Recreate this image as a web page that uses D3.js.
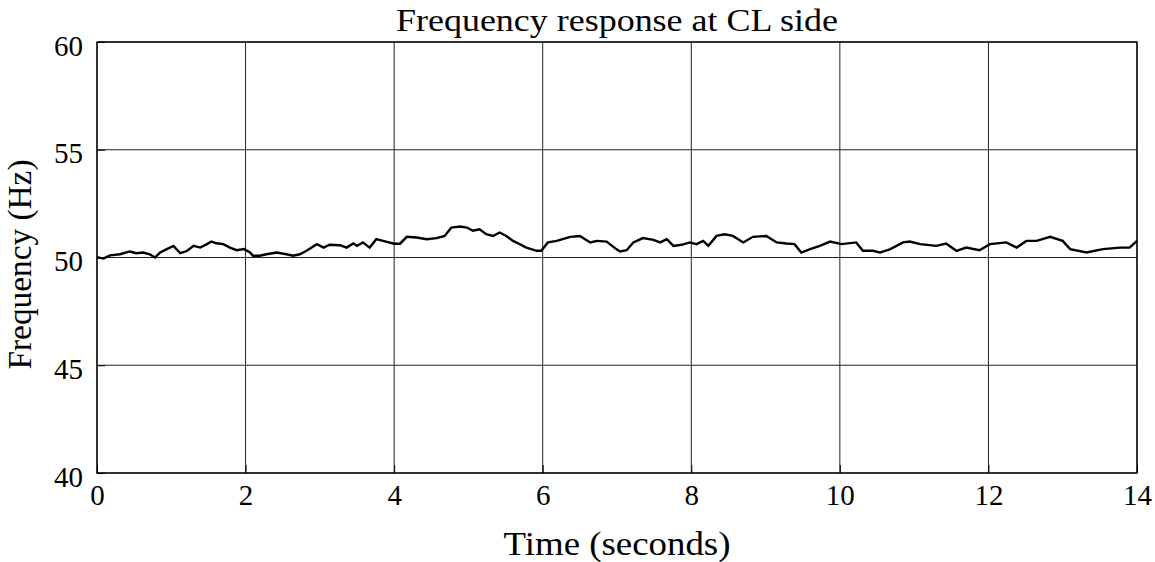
<!DOCTYPE html>
<html><head><meta charset="utf-8">
<script src="https://cdn.jsdelivr.net/npm/d3@7"></script>
<style>body{margin:0;background:#fff}svg{display:block}text{font-family:"Liberation Serif","Times New Roman",serif;fill:#000}</style>
</head><body>
<svg id="c" width="1155" height="562"></svg>
<script>
const title = "Frequency response at CL side";
const xLabel = "Time (seconds)";
const yLabel = "Frequency (Hz)";
const xTicks = [0,2,4,6,8,10,12,14];
const yTicks = [40,45,50,55,60];
const times = [0,0.085,0.175,0.31,0.44,0.53,0.62,0.71,0.78,0.85,0.94,1.03,1.12,1.21,1.3,1.39,1.48,1.54,1.61,1.7,1.79,1.88,1.98,2.06,2.1,2.19,2.28,2.42,2.55,2.64,2.73,2.82,2.96,3.05,3.13,3.27,3.36,3.45,3.5,3.58,3.67,3.76,3.85,4.0,4.08,4.17,4.3,4.44,4.57,4.68,4.77,4.89,4.98,5.06,5.15,5.24,5.33,5.42,5.51,5.6,5.69,5.78,5.92,5.98,6.07,6.19,6.37,6.5,6.64,6.73,6.86,6.99,7.04,7.13,7.22,7.35,7.49,7.58,7.67,7.76,7.87,7.98,8.07,8.16,8.23,8.34,8.45,8.56,8.7,8.83,9.01,9.15,9.28,9.39,9.48,9.6,9.73,9.87,10.02,10.22,10.31,10.45,10.54,10.68,10.85,10.94,11.08,11.3,11.43,11.57,11.7,11.88,12.02,12.24,12.38,12.51,12.65,12.83,13.0,13.1,13.32,13.54,13.77,13.9,14.0];
const freqs = [50.02,49.95,50.1,50.15,50.28,50.2,50.23,50.15,50.0,50.23,50.39,50.54,50.2,50.3,50.54,50.46,50.62,50.74,50.66,50.62,50.46,50.34,50.39,50.23,50.08,50.08,50.15,50.23,50.15,50.08,50.15,50.31,50.62,50.46,50.59,50.57,50.46,50.65,50.54,50.7,50.46,50.85,50.77,50.64,50.64,50.96,50.93,50.85,50.9,51.0,51.39,51.44,51.39,51.24,51.31,51.08,51.0,51.16,51.0,50.77,50.62,50.46,50.31,50.31,50.7,50.77,50.96,51.0,50.7,50.77,50.74,50.39,50.28,50.34,50.7,50.9,50.82,50.7,50.85,50.54,50.59,50.7,50.62,50.77,50.54,51.0,51.08,51.0,50.7,50.96,51.0,50.7,50.65,50.62,50.23,50.39,50.54,50.74,50.62,50.7,50.31,50.31,50.23,50.39,50.7,50.74,50.62,50.54,50.65,50.31,50.46,50.34,50.62,50.7,50.46,50.77,50.77,50.96,50.77,50.39,50.23,50.39,50.46,50.46,50.77];

const svg = d3.select("#c");
const L = 97, R = 1137, T = 42, B = 473;
const x = d3.scaleLinear().domain([0,14]).range([L,R]);
const y = d3.scaleLinear().domain([40,60]).range([B,T]);

// grid
svg.append("g").selectAll("line").data(xTicks).join("line")
  .attr("x1",d=>x(d)).attr("x2",d=>x(d)).attr("y1",T).attr("y2",B)
  .attr("stroke","#222").attr("stroke-width",1);
svg.append("g").selectAll("line").data(yTicks).join("line")
  .attr("x1",L).attr("x2",R).attr("y1",d=>y(d)).attr("y2",d=>y(d))
  .attr("stroke","#222").attr("stroke-width",1);

// axes
const xa = svg.append("g").attr("transform",`translate(0,${B})`)
  .call(d3.axisBottom(x).tickValues(xTicks).tickSize(-8).tickPadding(32).tickFormat(d3.format("d")));
const ya = svg.append("g").attr("transform",`translate(${L},0)`)
  .call(d3.axisLeft(y).tickValues(yTicks).tickSize(-8).tickPadding(14).tickFormat(d3.format("d")));
[xa,ya].forEach(a=>{a.select(".domain").remove();a.selectAll("line").attr("stroke","#000");
  a.selectAll("text").style("font-size","29px").style("font-family","Liberation Serif");});
xa.selectAll("text").attr("dy","0");
ya.selectAll("text").attr("dy","0.45em");

// frame
svg.append("rect").attr("x",L).attr("y",T).attr("width",R-L).attr("height",B-T)
  .attr("fill","none").attr("stroke","#000").attr("stroke-width",1.3);

// line
const line = d3.line().x((d,i)=>x(times[i])).y(d=>y(d));
svg.append("path").datum(freqs).attr("d",line).attr("fill","none")
  .attr("stroke","#000").attr("stroke-width",2.4).attr("stroke-linejoin","miter");

// labels
svg.append("text").attr("x",(L+R)/2).attr("y",31).attr("text-anchor","middle")
  .attr("textLength",442).attr("lengthAdjust","spacingAndGlyphs")
  .style("font-size","32px").text(title);
svg.append("text").attr("x",(L+R)/2).attr("y",555).attr("text-anchor","middle")
  .attr("textLength",227).attr("lengthAdjust","spacingAndGlyphs")
  .style("font-size","33px").text(xLabel);
svg.append("text").attr("transform",`translate(31,${(T+B)/2+7}) rotate(-90)`).attr("text-anchor","middle")
  .attr("textLength",210).attr("lengthAdjust","spacingAndGlyphs")
  .style("font-size","33px").text(yLabel);
</script>
</body></html>
